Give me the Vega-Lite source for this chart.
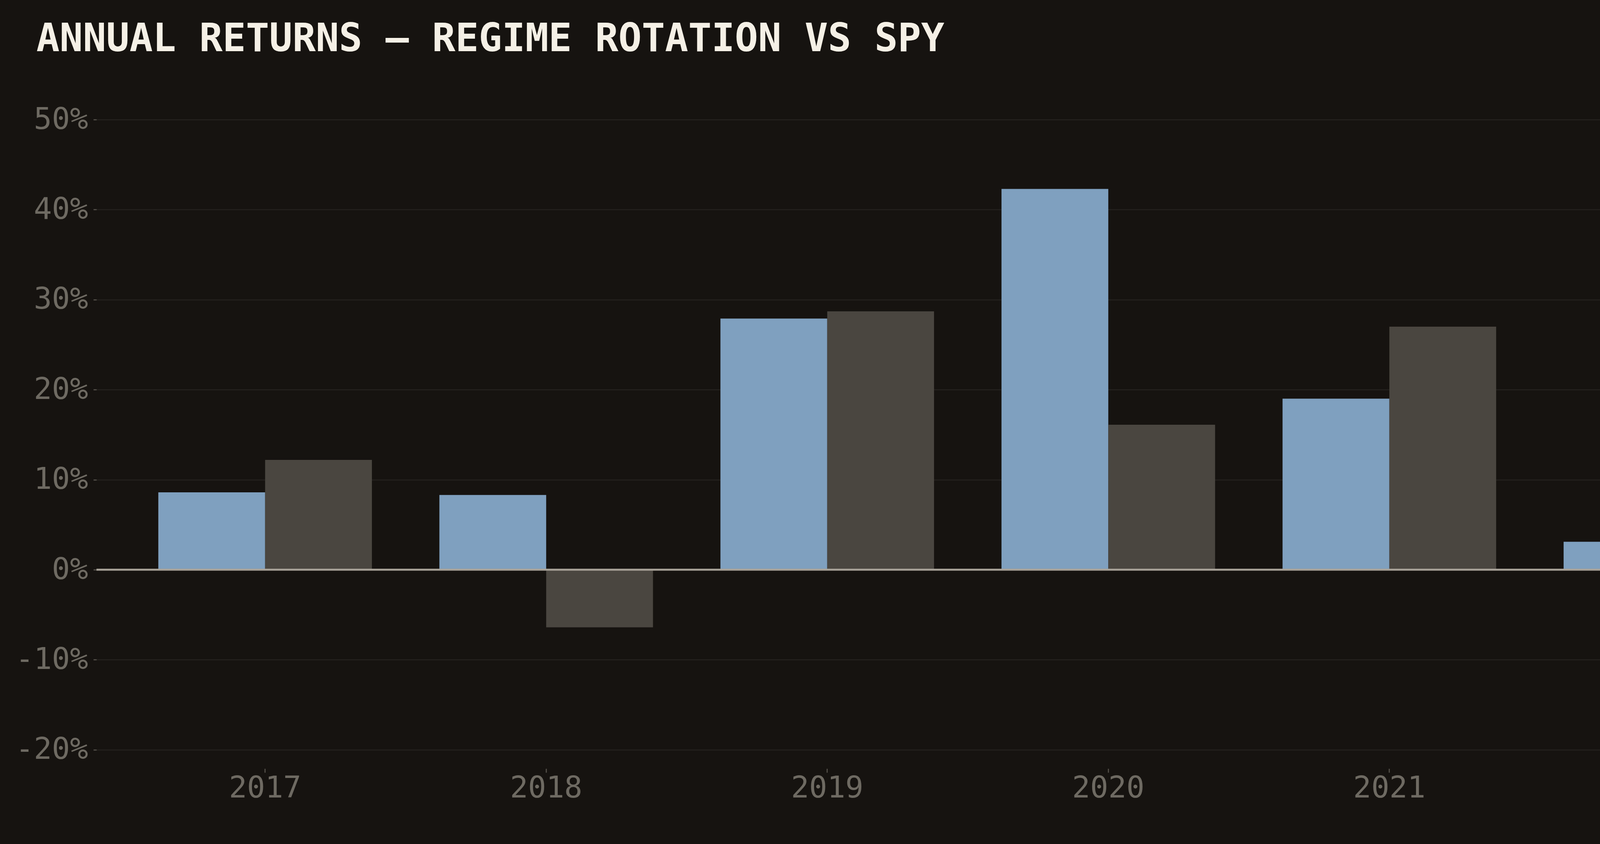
{
  "$schema": "https://vega.github.io/schema/vega-lite/v6.json",
  "width": 7680,
  "height": 2160,
  "autosize": {"type": "fit", "contains": "padding"},
  "padding": {"left": 39, "top": 52, "right": 91, "bottom": 105},
  "background": "#161310",
  "title": {
    "text": "ANNUAL RETURNS — REGIME ROTATION VS SPY",
    "anchor": "start",
    "frame": "group",
    "dx": -154,
    "offset": -79,
    "font": "DejaVu Sans Mono",
    "fontSize": 99,
    "fontWeight": "bold",
    "color": "#f5f0e6"
  },
  "layer": [
    {
      "data": {
        "values": [
          {"year": "2017", "series": "Regime Rotation", "value": 0.086},
          {"year": "2017", "series": "SPY B&H", "value": 0.122},
          {"year": "2018", "series": "Regime Rotation", "value": 0.083},
          {"year": "2018", "series": "SPY B&H", "value": -0.064},
          {"year": "2019", "series": "Regime Rotation", "value": 0.279},
          {"year": "2019", "series": "SPY B&H", "value": 0.287},
          {"year": "2020", "series": "Regime Rotation", "value": 0.423},
          {"year": "2020", "series": "SPY B&H", "value": 0.161},
          {"year": "2021", "series": "Regime Rotation", "value": 0.19},
          {"year": "2021", "series": "SPY B&H", "value": 0.27},
          {"year": "2022", "series": "Regime Rotation", "value": 0.031},
          {"year": "2022", "series": "SPY B&H", "value": -0.196},
          {"year": "2023", "series": "Regime Rotation", "value": 0.325},
          {"year": "2023", "series": "SPY B&H", "value": 0.242},
          {"year": "2024", "series": "Regime Rotation", "value": 0.227},
          {"year": "2024", "series": "SPY B&H", "value": 0.232},
          {"year": "2025", "series": "Regime Rotation", "value": 0.357},
          {"year": "2025", "series": "SPY B&H", "value": 0.164},
          {"year": "2026", "series": "Regime Rotation", "value": 0.13},
          {"year": "2026", "series": "SPY B&H", "value": 0.086}
        ]
      },
      "mark": {"type": "bar"},
      "encoding": {
        "x": {
          "field": "year",
          "type": "nominal",
          "scale": {"paddingInner": 0.24, "paddingOuter": 0.22},
          "axis": {
            "title": null,
            "labelAngle": 0,
            "domain": false,
            "grid": false,
            "tickSize": 10,
            "labelPadding": 2
          }
        },
        "xOffset": {
          "field": "series",
          "type": "nominal",
          "scale": {"domain": ["Regime Rotation", "SPY B&H"], "paddingInner": 0, "paddingOuter": 0}
        },
        "y": {
          "field": "value",
          "type": "quantitative",
          "scale": {"domain": [-0.2209, 0.5], "nice": false, "zero": false},
          "axis": {
            "title": "9 / 9 GREEN\u00a0\u00a0·\u00a0\u00a0BEAT SPY 5 / 9 FULL YEARS",
            "titleAngle": 0,
            "titleAlign": "right",
            "titleBaseline": "alphabetic",
            "titleX": {"expr": "width - 4"},
            "titleY": -175,
            "titleFont": "DejaVu Sans Mono",
            "titleFontSize": 73,
            "titleFontWeight": "normal",
            "titleColor": "#6e6a62",
            "format": ".0%",
            "values": [-0.2, -0.1, 0, 0.1, 0.2, 0.3, 0.4, 0.5],
            "labelExpr": "replace(datum.label, '−', '-')",
            "domain": false,
            "tickSize": 8,
            "labelPadding": 14,
            "grid": true,
            "gridColor": "#221f1c",
            "gridWidth": 3
          }
        },
        "color": {
          "field": "series",
          "type": "nominal",
          "scale": {"domain": ["Regime Rotation", "SPY B&H"], "range": ["#7fa0bf", "#4a4640"]},
          "legend": {
            "title": null,
            "orient": "none",
            "legendX": 5590,
            "legendY": -5,
            "direction": "vertical",
            "symbolType": "M-1,-0.35H1V0.35H-1Z",
            "symbolSize": 25600,
            "symbolStrokeWidth": 0,
            "labelFont": "DejaVu Sans Mono",
            "labelFontSize": 79,
            "labelOffset": 66,
            "labelLimit": 0,
            "rowPadding": -3,
            "padding": 0,
            "encode": {
              "labels": {
                "update": {
                  "fill": {"signal": "datum.label === 'SPY B&H' ? '#a8a398' : '#f3eee4'"}
                }
              }
            }
          }
        },
        "tooltip": [
          {"field": "year", "type": "nominal", "title": "Year"},
          {"field": "series", "type": "nominal", "title": "Series"},
          {"field": "value", "type": "quantitative", "title": "Return", "format": ".1%"}
        ]
      }
    },
    {
      "data": {"values": [{}]},
      "mark": {"type": "rule", "color": "#a8a298", "strokeWidth": 5},
      "encoding": {
        "y": {"datum": 0, "type": "quantitative"}
      }
    }
  ],
  "config": {
    "font": "DejaVu Sans Mono",
    "view": {"stroke": null},
    "axis": {
      "labelFont": "DejaVu Sans Mono",
      "labelFontSize": 77,
      "labelColor": "#6e6a62",
      "labelLimit": 0,
      "tickColor": "#4f4b45",
      "tickWidth": 3
    }
  }
}
